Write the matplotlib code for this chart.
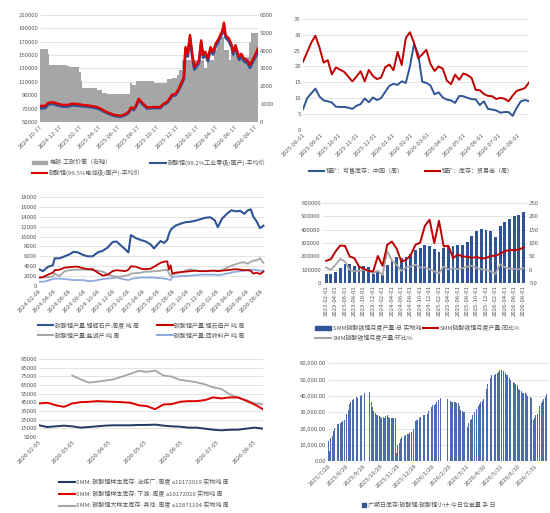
import numpy as np
import pandas as pd
import matplotlib
matplotlib.use("Agg")
import matplotlib.pyplot as plt
from matplotlib.patches import Patch
from matplotlib.lines import Line2D

plt.rcParams['font.family'] = ['Noto Sans CJK SC', 'DejaVu Sans']
plt.rcParams['axes.unicode_minus'] = False

AZUL = '#2F5597'
ROJO = '#C00000'
GRIS = '#A5A5A5'
CELESTE = '#8FAADC'
TXT = '#595959'
GRID = '#D9D9D9'
FS = 4.3

# ---------------- panel 1: precios carbonato de litio ----------------
p1_dates = ['2024-10-17', '2024-11-02', '2024-11-12', '2024-11-28', '2024-12-13', '2024-12-29',
            '2025-01-14', '2025-01-24', '2025-02-09', '2025-03-01', '2025-03-22', '2025-04-12',
            '2025-04-22', '2025-05-13', '2025-06-03', '2025-06-24', '2025-07-10', '2025-07-20',
            '2025-07-27', '2025-08-05', '2025-08-13', '2025-08-20', '2025-08-31', '2025-09-15',
            '2025-10-06', '2025-10-27', '2025-11-04', '2025-11-17', '2025-11-27', '2025-12-02',
            '2025-12-13', '2025-12-23', '2026-01-08', '2026-01-13', '2026-01-20', '2026-01-27',
            '2026-02-03', '2026-02-10', '2026-02-24', '2026-03-03', '2026-03-09', '2026-03-16',
            '2026-03-24', '2026-04-01', '2026-04-09', '2026-04-17', '2026-04-27', '2026-05-08',
            '2026-05-13', '2026-05-18', '2026-05-28', '2026-06-05', '2026-06-11', '2026-06-18',
            '2026-06-29', '2026-07-06', '2026-07-14', '2026-07-25', '2026-08-02', '2026-08-09',
            '2026-08-20', '2026-08-27']
p1_bat = [74000, 74500, 79000, 79500, 77000, 75500, 76000, 77500, 77000, 75500, 74500, 72500,
          70500, 65000, 61000, 59500, 62000, 65500, 72000, 70000, 76000, 85000, 79000, 72000,
          72500, 72500, 77000, 80000, 87000, 91000, 92000, 100000, 117000, 162000, 152000, 180000,
          152000, 132000, 142000, 172000, 150000, 155000, 145000, 162000, 155000, 167000, 175000, 187000,
          198500, 180000, 175000, 167000, 155000, 165000, 147000, 152000, 145000, 142000, 135000, 142000,
          152000, 160000]
p1_ind = [70500, 71000, 76500, 77000, 74500, 73000, 73500, 75000, 74500, 73500, 72500, 70500,
          68500, 63500, 59500, 58000, 60500, 64000, 70000, 68000, 74000, 83000, 77000, 70500,
          71000, 71000, 75500, 78500, 85000, 89000, 90000, 97500, 114000, 158000, 148000, 176000,
          148000, 128500, 138000, 168000, 146000, 151000, 141000, 158000, 151000, 163000, 171000, 183000,
          194000, 176000, 171000, 163000, 151000, 161000, 143000, 148000, 141000, 138000, 131000, 138000,
          148000, 156000]
p1_gap_dates = ['2024-10-17', '2024-11-09', '2024-11-14', '2025-01-08', '2025-01-19', '2025-02-16',
                '2025-02-20', '2025-02-25', '2025-04-12', '2025-04-28', '2025-05-13', '2025-07-25',
                '2025-07-31', '2025-08-12', '2025-10-06', '2025-11-17', '2025-12-02', '2025-12-18',
                '2025-12-25', '2026-01-03', '2026-03-11', '2026-03-22', '2026-04-12', '2026-04-22',
                '2026-05-04', '2026-05-13', '2026-05-28', '2026-06-03', '2026-06-23', '2026-07-30',
                '2026-08-04', '2026-08-27']
p1_gap = [4100, 3800, 3200, 3150, 3100, 2800, 2300, 1900, 1780, 1650, 1560, 2180,
          2080, 2300, 2200, 2420, 2450, 2650, 2900, 3480, 3000, 3480, 4040, 4500,
          4780, 4040, 3480, 4000, 3660, 4500, 4970, 4970]
p1_xt = ['2024-10-17', '2024-12-17', '2025-02-17', '2025-04-17', '2025-06-17', '2025-08-17',
         '2025-10-17', '2025-12-17', '2026-02-17', '2026-04-17', '2026-06-17', '2026-08-17']

# ---------------- panel 2: inventario de mineral ----------------
p2_comerc = [21.5, 24.5, 27.5, 29.7, 26.0, 21.2, 22.0, 17.5, 19.7, 19.0, 18.3, 16.8, 15.3, 16.8,
             18.5, 15.3, 18.9, 17.0, 16.0, 16.5, 19.8, 20.6, 18.8, 24.6, 20.5, 29.0, 30.8, 27.5,
             22.6, 23.8, 25.3, 20.8, 18.6, 20.0, 19.3, 15.5, 14.4, 17.4, 15.8, 17.8, 17.3, 16.4,
             12.6, 12.5, 11.3, 10.7, 10.6, 9.7, 10.1, 9.8, 9.0, 10.8, 12.3, 12.7, 13.2, 15.0]
p2_vend = [6.5, 10.0, 11.5, 13.0, 10.5, 9.3, 9.0, 8.6, 7.3, 7.2, 7.2, 7.0, 6.6, 7.6,
           8.1, 9.9, 8.7, 10.2, 9.4, 10.0, 12.0, 13.9, 14.5, 14.2, 15.3, 14.8, 20.0, 27.0,
           24.0, 15.2, 14.8, 14.0, 11.2, 11.8, 10.2, 9.5, 9.3, 8.5, 10.7, 10.6, 10.1, 9.7,
           9.6, 7.8, 9.0, 6.6, 6.4, 6.1, 5.4, 5.6, 5.6, 4.4, 7.0, 9.0, 9.4, 9.0]
p2_xt = ['2025-08-01', '2025-09-01', '2025-10-01', '2025-11-01', '2025-12-01', '2026-01-01',
         '2026-02-01', '2026-03-01', '2026-04-01', '2026-05-01', '2026-06-01', '2026-07-01',
         '2026-08-01']

# ---------------- panel 3: produccion por materia prima ----------------
p3_dates = ['2024-02-08', '2024-02-24', '2024-03-16', '2024-04-05', '2024-04-12', '2024-05-02',
            '2024-05-23', '2024-06-12', '2024-06-28', '2024-07-16', '2024-08-06', '2024-08-26',
            '2024-09-15', '2024-10-06', '2024-10-26', '2024-11-16', '2024-12-06', '2024-12-22',
            '2025-01-09', '2025-01-27', '2025-02-09', '2025-02-19', '2025-03-11', '2025-04-01',
            '2025-04-21', '2025-05-11', '2025-05-25', '2025-06-08', '2025-06-21', '2025-07-05',
            '2025-07-18', '2025-07-25', '2025-08-01', '2025-08-08', '2025-08-21', '2025-09-11',
            '2025-10-01', '2025-10-22', '2025-11-11', '2025-12-01', '2025-12-22', '2026-01-11',
            '2026-01-29', '2026-02-11', '2026-02-28', '2026-03-20', '2026-04-07', '2026-04-26',
            '2026-05-14', '2026-05-31', '2026-06-14', '2026-06-26', '2026-07-07', '2026-07-21',
            '2026-08-03', '2026-08-17']
p3_espod = [3400, 3000, 3900, 4200, 5600, 5600, 6000, 6400, 6900, 6800, 6300, 6000,
            6000, 6800, 7100, 7800, 8900, 9000, 8200, 7400, 6800, 10300, 9700, 9300,
            9000, 8400, 7600, 8400, 9100, 8700, 9300, 10500, 11300, 11700, 12200, 12600,
            12900, 13000, 13200, 13500, 13800, 13900, 13300, 11900, 13600, 14600, 15300, 15100,
            15200, 14600, 15300, 15500, 14000, 13000, 11700, 12200]
p3_lepid = [1700, 1800, 2300, 2700, 3200, 3300, 3700, 3800, 3900, 3900, 3600, 3400,
            3400, 2700, 2100, 2300, 3000, 3200, 3100, 3000, 3300, 4000, 3900, 3500,
            3400, 3500, 3900, 4300, 4700, 4900, 5000, 3300, 4200, 2500, 2700, 2800,
            2900, 3000, 3100, 3000, 3000, 3100, 3100, 3000, 3100, 3200, 3300, 3400,
            3300, 3200, 3200, 3100, 2500, 2700, 2400, 2900]
p3_salar = [1700, 1700, 1800, 1900, 2500, 2000, 3000, 3200, 3300, 3300, 3300, 3300,
            3200, 3100, 2900, 2400, 2000, 1900, 1900, 2100, 2200, 2500, 2600, 2700,
            2900, 2900, 3000, 3000, 3100, 3200, 3300, 2600, 2000, 2300, 2500, 2800,
            3100, 3400, 3100, 3000, 3000, 3000, 3100, 3100, 3200, 3700, 4100, 4400,
            4700, 4800, 4500, 4900, 5100, 5200, 5600, 4700]
p3_recic = [900, 850, 1100, 1400, 1500, 1500, 1400, 1300, 1200, 1200, 1200, 1000,
            1000, 1200, 1400, 1500, 1600, 1700, 1500, 1300, 1200, 1400, 1600, 1700,
            1700, 1700, 1700, 1600, 1600, 1500, 1400, 1300, 1200, 1800, 1900, 2000,
            2000, 2100, 2200, 2300, 2300, 2300, 2300, 2200, 2300, 2500, 2700, 2900,
            3000, 3100, 3200, 3300, 3300, 3200, 3100, 3100]
p3_xt = ['2024-02-08', '2024-04-08', '2024-06-08', '2024-08-08', '2024-10-08', '2024-12-08',
         '2025-02-08', '2025-04-08', '2025-06-08', '2025-08-08', '2025-10-08', '2025-12-08',
         '2026-02-08', '2026-04-08', '2026-06-08', '2026-08-08']

# ---------------- panel 4: LFP mensual ----------------
p4_total = [70000, 70000, 82000, 112000, 142000, 142000, 130000, 125000, 130000, 118000, 68000,
            92000, 62000, 138000, 170000, 200000, 188000, 200000, 218000, 250000, 262000, 288000, 275000,
            257000, 230000, 262000, 270000, 280000, 283000, 287000, 312000, 350000, 388000, 408000, 400000,
            392000, 343000, 425000, 462000, 483000, 500000, 512000, 535000]
p4_yoy = [34, 40, 69, 91, 90, 50, 44, 12, 4, -4, -6,
          52, 15, 94, 106, 79, 31, 37, 56, 94, 102, 165, 188,
          100, 184, 88, 90, 44, 58, 50, 49, 45, 48, 43, 44,
          52, 53, 60, 70, 74, 74, 76, 84]
p4_mom = [9, 0, 19, 41, 31, 0, -6, -4, 0, -4, -12,
          -4, -19, 71, 34, 19, -4, 9, 12, 19, 9, 9, 2,
          -6, -13, 12, 2, 6, 2, 6, 12, 15, 8, 2, 0,
          -6, -15, 21, 10, 4, 3, 2, 6]

# ---------------- panel 5: inventario muestra ----------------
p5_fund = [18600, 16600, 17400, 18200, 17400, 15900, 16600, 17400, 18200, 18600, 18600, 18600, 19000, 19000,
           19400, 18200, 17400, 17000, 15900, 15900, 14700, 13500, 12800, 13500, 13500, 14700, 15900, 14700]
p5_abajo = [43800, 44600, 41800, 39900, 43800, 45300, 45700, 46500, 46100, 45700, 45300, 44600, 41800, 40700,
            37200, 42600, 43000, 45700, 46500, 46500, 47700, 50800, 49600, 50800, 50800, 46900, 42600, 37200]
p5_otros = [76000, 71700, 67800, 69000, 70200, 71700, 74800, 77900, 81400, 80300, 81800, 76000,
            74800, 71000, 69800, 68200, 65900, 62400, 60500, 54300, 50400, 47700, 43800, 42600]
p5_xt = ['2026-02-05', '2026-03-05', '2026-04-05', '2026-05-05', '2026-06-05', '2026-07-05', '2026-08-05']

# ---------------- panel 6: recibos de almacen GFEX ----------------
feriados = ['2025-10-01', '2025-10-02', '2025-10-03', '2025-10-06', '2025-10-07', '2025-10-08',
            '2026-02-16', '2026-02-17', '2026-02-18', '2026-02-19', '2026-02-20', '2026-02-23']
cangdan = [12500, 12800, 6000, 9500, 14000,
           15500, 17000, 18500, 19500, 20500,
           21000, 21500, 22500, 23000, 23000,
           23500, 23500, 24000, 24000, 24500,
           25000, 25500, 26000, 27500, 29000,
           30000, 31500, 33500, 35000, 36500,
           37000, 37500, 38000, 38000, 38500,
           38500, 39000, 39000, 38500, 39000,
           39500, 40000, 40000, 40500, 41500,
           41500, 42000,
           42500, 42000,
           36500, 33000, 31000, 30500, 30000,
           29500, 29000, 28500, 28000, 27500,
           27500, 27000, 27000, 26500, 27000,
           27000, 26500, 26500, 27000, 27500,
           28000, 27500, 27000, 26500, 26500,
           26500, 27000, 26500, 27000, 26500,
           26500, 27000, 5000, 8000, 10000,
           11000, 12500, 13500, 14500, 15000,
           15000, 15200, 15500, 15500, 16000,
           16000, 16500, 16500, 17000, 17500,
           17500, 18000, 19500, 20000, 20000,
           21000, 24500, 25000, 25500, 25500,
           26000, 26500, 27000, 27000, 27500,
           27500, 28000, 28500, 28500, 28500,
           29000, 29000, 30000, 30500, 31000,
           32000, 33000, 34000, 34500, 34000,
           34500, 35000, 35500, 36000, 37000,
           37500, 38500, 39000, 38500, 38500,
           38500, 38000, 38000, 37500,
           37000, 36500, 36500, 37000, 36500,
           36500, 36000, 36000, 36500, 35500,
           35500, 35000, 34000, 33000, 31500,
           31000, 30500, 30000, 29500, 30000,
           11000, 19000, 21000, 22000, 23500,
           24000, 25000, 26000, 27500, 28500,
           29000, 30000, 30500, 31000, 32000,
           32500, 33500, 34500, 35000, 36000,
           36500, 37000, 37500, 38000, 38500,
           43000, 44000, 45500, 47000, 48500,
           50000, 51000, 52000, 52500, 52500,
           52500, 53000, 53500, 53500, 54000,
           54000, 54500, 55500, 56000, 56000,
           56000, 55500, 55500, 55000, 54500,
           54000, 53500, 53000, 52500, 52000,
           51000, 50000, 49500, 49000, 49000,
           48500, 48500, 48000, 47500, 47000,
           46500, 45500, 44500, 44000, 43500,
           43000, 42500, 42000, 42000, 41500,
           41500, 41000, 41000, 40500, 40000,
           40000, 39500, 39000, 39000, 38500,
           38000, 25000, 26500, 27500, 28000,
           28500, 29000, 30000, 32000, 34000,
           35000, 35500, 36000, 37000, 38000,
           38500, 39000, 40000, 41000, 42000]
p6_xt = ['2025-07-28', '2025-08-28', '2025-09-28', '2025-10-28', '2025-11-28', '2025-12-28',
         '2026-01-28', '2026-02-28', '2026-03-31', '2026-04-30', '2026-05-31', '2026-06-30', '2026-07-31']
p6_xl = ['2025/7/28', '2025/8/28', '2025/9/28', '2025/10/28', '2025/11/28', '2025/12/28',
         '2026/1/28', '2026/2/28', '2026/3/31', '2026/4/30', '2026/5/31', '2026/6/30', '2026/7/31']


def estilo(ax):
    for s in ax.spines.values():
        s.set_visible(False)
    ax.tick_params(axis='both', length=0, labelsize=FS, colors=TXT, pad=1.5)
    ax.grid(axis='y', color=GRID, lw=0.5)
    ax.grid(axis='x', visible=False)
    ax.set_axisbelow(True)


def fechas_x(ax, ticks, labels, rot=45):
    ax.set_xticks(pd.to_datetime(ticks))
    ax.set_xticklabels(labels, rotation=rot, ha='right', rotation_mode='anchor')


def leyenda(handles, labels, x, y, ncol, **kw):
    opts = dict(loc='center', bbox_to_anchor=(x, y), ncol=ncol, frameon=False,
                fontsize=FS, labelcolor=TXT, handlelength=2.6, handletextpad=0.3,
                columnspacing=1.6, borderaxespad=0, labelspacing=0.7)
    opts.update(kw)
    fig.legend(handles, labels, **opts)


fig = plt.figure(figsize=(5.5, 5.13), dpi=100)

# panel 1
ax1 = fig.add_axes([0.073, 0.762, 0.396, 0.209])
estilo(ax1)
gap_izq = 50000 + np.array(p1_gap) / 6000 * 160000
ax1.fill_between(pd.to_datetime(p1_gap_dates), 50000, gap_izq, step='post', color='#A6A6A6', lw=0)
d1 = pd.to_datetime(p1_dates)
ax1.plot(d1, p1_ind, color=AZUL, lw=2.0)
ax1.plot(d1, p1_bat, color='#E00000', lw=1.7)
ax1.set_ylim(50000, 210000)
yt = list(range(50000, 210001, 20000))
ax1.set_yticks(yt)
ax1.set_yticklabels([str(v) for v in yt])
ax1.set_xlim(d1[0], d1[-1])
fechas_x(ax1, p1_xt, p1_xt)
sec = ax1.secondary_yaxis('right', functions=(lambda v: (v - 50000) / 160000 * 6000,
                                              lambda v: 50000 + v / 6000 * 160000))
sec.set_yticks(range(0, 6001, 1000))
sec.tick_params(length=0, labelsize=FS, colors=TXT, pad=1.5)
for s in sec.spines.values():
    s.set_visible(False)
leyenda([Patch(color='#A6A6A6'), Line2D([], [], color='#E00000', lw=1.5), Line2D([], [], color=AZUL, lw=1.5)],
        ['电碳-工碳价差（右轴）', '碳酸锂(99.5%电池级/国产)-平均价', '碳酸锂(99.2%工业零级/国产)-平均价'],
        0.27, 0.673, 2, handleheight=0.6)

# panel 2
ax2 = fig.add_axes([0.551, 0.747, 0.411, 0.216])
estilo(ax2)
d2a = pd.date_range('2025-08-01', periods=len(p2_vend), freq='7D')
d2b = pd.date_range('2025-08-01', periods=len(p2_comerc), freq='7D')
ax2.plot(d2a, p2_vend, color=AZUL, lw=1.4)
ax2.plot(d2b, p2_comerc, color=ROJO, lw=1.4)
ax2.set_ylim(0, 35)
ax2.set_yticks(range(0, 36, 5))
ax2.set_xlim(d2a[0], max(d2a[-1], d2b[-1]))
fechas_x(ax2, p2_xt, p2_xt)
leyenda([Line2D([], [], color=AZUL, lw=1.5), Line2D([], [], color=ROJO, lw=1.5)],
        ['锂矿：可售库存：中国（周）', '锂矿：库存：贸易商（周）'], 0.748, 0.666, 2, columnspacing=3.5)

# panel 3
ax3 = fig.add_axes([0.071, 0.4425, 0.411, 0.1735])
estilo(ax3)
d3 = pd.to_datetime(p3_dates)
ax3.plot(d3, p3_recic, color=CELESTE, lw=1.3)
ax3.plot(d3, p3_salar, color=GRIS, lw=1.3)
ax3.plot(d3, p3_lepid, color=ROJO, lw=1.3)
ax3.plot(d3, p3_espod, color=AZUL, lw=1.5)
ax3.set_ylim(0, 18000)
ax3.set_yticks(range(0, 18001, 2000))
ax3.set_xlim(d3[0], pd.Timestamp('2026-08-24'))
fechas_x(ax3, p3_xt, p3_xt)
leyenda([Line2D([], [], color=AZUL, lw=1.5), Line2D([], [], color=GRIS, lw=1.5),
         Line2D([], [], color=ROJO, lw=1.5), Line2D([], [], color=CELESTE, lw=1.5)],
        ['碳酸锂产量:锂辉石产:周度 吨 周', '碳酸锂产量:盐湖产 吨 周',
         '碳酸锂产量:锂云母产 吨 周', '碳酸锂产量:回收料产 吨 周'], 0.257, 0.356, 2, columnspacing=3.0)

# panel 4
ax4 = fig.add_axes([0.587, 0.448, 0.371, 0.156])
estilo(ax4)
meses = pd.date_range('2023-02-01', periods=len(p4_total), freq='MS')
x4 = np.arange(len(meses))
ax4.bar(x4, p4_total, width=0.6, color=AZUL)
ax4.set_ylim(0, 600000)
yt4 = list(range(0, 600001, 100000))
ax4.set_yticks(yt4)
ax4.set_yticklabels([str(v) for v in yt4])
ax4.set_xlim(-0.7, len(meses) - 0.3)
ax4.set_xticks(x4[::2])
ax4.set_xticklabels(meses[::2].strftime('%Y-%m-%d'), rotation=90)
ax4b = ax4.twinx()
for s in ax4b.spines.values():
    s.set_visible(False)
ax4b.plot(x4, p4_mom, color=GRIS, lw=1.3)
ax4b.plot(x4, p4_yoy, color=ROJO, lw=1.4)
ax4b.set_ylim(-50, 250)
ax4b.set_yticks(range(-50, 251, 50))
ax4b.tick_params(length=0, labelsize=FS, colors=TXT, pad=1.5)
leyenda([Patch(color=AZUL), Line2D([], [], color=GRIS, lw=1.5), Line2D([], [], color=ROJO, lw=1.5)],
        ['SMM磷酸铁锂月度产量:总 实物吨', 'SMM磷酸铁锂月度产量:环比%', 'SMM磷酸铁锂月度产量:同比%'],
        0.76, 0.351, 2, handleheight=0.6, columnspacing=0.3)

# panel 5
ax5 = fig.add_axes([0.071, 0.148, 0.407, 0.152])
estilo(ax5)
d5 = pd.date_range('2026-02-05', periods=len(p5_fund), freq='7D')
ax5.plot(d5[-len(p5_otros):], p5_otros, color=GRIS, lw=1.3)
ax5.plot(d5, p5_abajo, color='#E00000', lw=1.4)
ax5.plot(d5, p5_fund, color='#203864', lw=1.4)
ax5.set_ylim(5000, 95000)
ax5.set_yticks(range(5000, 95001, 10000))
ax5.set_xlim(d5[0], d5[-1])
fechas_x(ax5, p5_xt, p5_xt)
leyenda([Line2D([], [], color='#203864', lw=1.5), Line2D([], [], color='#E00000', lw=1.5),
         Line2D([], [], color=GRIS, lw=1.5)],
        ['SMM: 碳酸锂样本库存: 冶炼厂: 周度 a10172019 实物吨 周',
         'SMM: 碳酸锂样本库存: 下游: 周度 a10172020 实物吨 周',
         'SMM: 碳酸锂大样本库存: 其他: 周度 a12871104 实物吨 周'], 0.262, 0.037, 1, labelspacing=0.9)

# panel 6
ax6 = fig.add_axes([0.596, 0.101, 0.401, 0.191])
estilo(ax6)
dias = pd.bdate_range('2025-07-28', '2026-08-21')
dias = dias[~dias.isin(pd.to_datetime(feriados))]
n6 = min(len(dias), len(cangdan))
ax6.bar(dias[:n6], cangdan[:n6], width=0.9, color='#4A6DB0', lw=0)
ax6.set_ylim(0, 60000)
yt6 = list(range(0, 60001, 10000))
ax6.set_yticks(yt6)
ax6.set_yticklabels([f'{v:,.2f}' for v in yt6])
ax6.set_xlim(pd.Timestamp('2025-07-27'), pd.Timestamp('2026-08-23'))
fechas_x(ax6, p6_xt, p6_xl)
leyenda([Patch(color=AZUL)], ['广期日库存:碳酸锂:碳酸锂小计:今日仓单量 手 日'], 0.78, 0.016, 1,
        handlelength=0.7, handleheight=0.7)

fig.savefig('out.png', dpi=100, facecolor='white')
